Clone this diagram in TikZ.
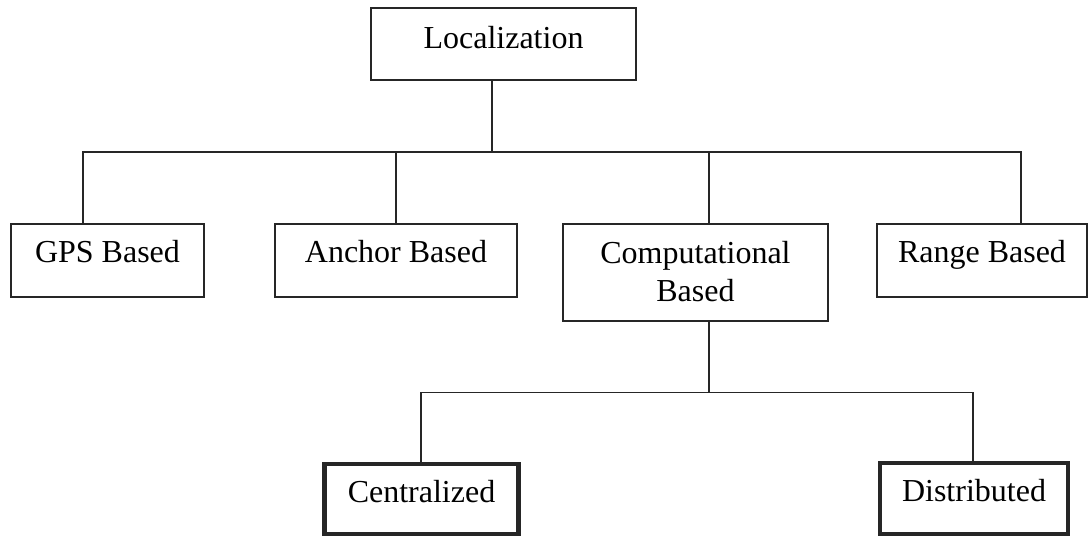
\documentclass[tikz,border=0pt]{standalone}
\usepackage{fontspec}
\setmainfont{Liberation Serif}
\usetikzlibrary{positioning}
\tikzset{
  box/.style={draw=black!85, line width=0.8pt, inner xsep=0pt, inner ysep=0pt, align=center, font=\fontsize{16pt}{19pt}\selectfont, text height=19pt, text depth=17.5pt},
  boldbox/.style={box, line width=2.2pt, text height=19.25pt, text depth=16pt},
  wire/.style={line width=0.8pt, color=black!85},
}

\begin{document}
\begin{tikzpicture}[x=0.5pt,y=-0.5pt]
  \useasboundingbox (0,0) rectangle (1088,536);
  % boxes
  \node[box, minimum width=132.5pt, text height=20pt, text depth=16pt] (loc) at (503.5,44) {Localization};
  \node[box, minimum width=96.5pt] (gps) at (107.5,260.5) {GPS Based};
  \node[box, minimum width=121pt] (anc) at (396,260.5) {Anchor Based};
  \node[box, minimum width=132.5pt, text height=38.5pt, text depth=10pt] (comp) at (695.5,272.5) {Computational\\Based};
  \node[box, minimum width=105pt] (range) at (982,260.5) {Range Based};
  \node[boldbox, minimum width=97pt] (cent) at (421.5,499) {Centralized};
  \node[boldbox, minimum width=94pt] (dist) at (974,498.5) {Distributed};
  % junctions
  \coordinate (busTop) at (492,152);
  \coordinate (busTopL) at (83,152);
  \coordinate (busTopR) at (1021,152);
  \coordinate (busComp) at (709,392.5);
  \coordinate (busLowL) at (421,392.5);
  \coordinate (busLowR) at (973,392.5);
  % wires
  \draw[wire] (loc.south -| busTop) -- (busTop);
  \draw[wire] (busTopL |- gps.north) -- (busTopL) -- (busTopR) -- (busTopR |- range.north);
  \draw[wire] (anc.north) -- (anc.north |- busTop);
  \draw[wire] (busComp |- comp.north) -- (busComp |- busTop);
  \draw[wire] (busComp |- comp.south) -- (busComp);
  \draw[wire] (busLowL |- cent.north) -- (busLowL) -- (busLowR) -- (busLowR |- dist.north);
\end{tikzpicture}
\end{document}
